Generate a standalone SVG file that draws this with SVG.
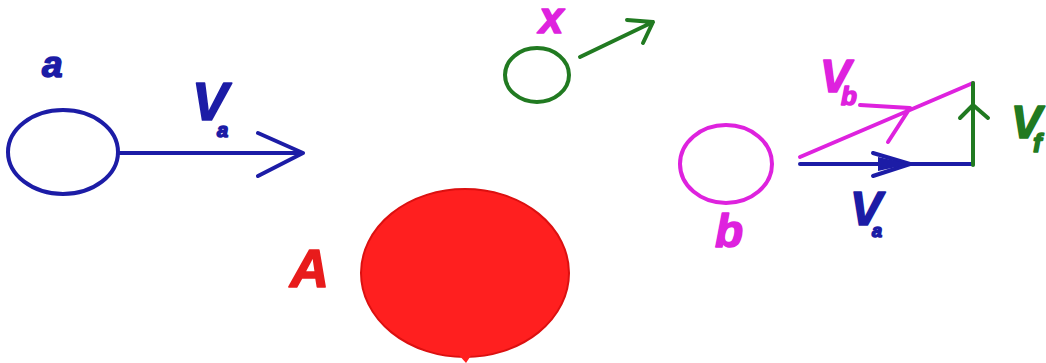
<svg xmlns="http://www.w3.org/2000/svg" width="1046" height="363" viewBox="0 0 1046 363">
<style>
text{font-family:"Liberation Sans",Arial,sans-serif;font-weight:bold;font-style:italic;stroke-width:1.6;stroke-linejoin:round}
.blue{fill:#1c1ca6;stroke:#1c1ca6}.mag{fill:#de22de;stroke:#de22de}.grn{fill:#217a21;stroke:#217a21}.red{fill:#e81c1c;stroke:#e81c1c}
.ln{fill:none;stroke-width:4;stroke-linecap:round;stroke-linejoin:round}
.sb{stroke:#1c1ca6}.sm{stroke:#de22de}.sg{stroke:#217a21}
.fb{fill:#1c1ca6}
</style>
<rect width="1046" height="363" fill="#ffffff"/>
<g id="node-a">
<ellipse cx="63" cy="152" rx="55" ry="42" class="ln sb"/>
<text x="42" y="77" font-size="37" class="blue">a</text>
</g>
<g id="node-x">
<ellipse cx="537" cy="75" rx="32" ry="27" class="ln sg" stroke-width="4.5"/>
<text x="539" y="33" font-size="44" class="mag">x</text>
</g>
<g id="node-A">
<ellipse cx="465" cy="273" rx="104" ry="84" fill="#ff1f1f" stroke="#dc1010" stroke-width="2"/>
<path d="M458,354 L472,354 L466,363 Z" fill="#ff1f1f"/>
<text x="290" y="287" font-size="54" class="red">A</text>
</g>
<g id="node-b">
<ellipse cx="726" cy="164" rx="46" ry="39" class="ln sm"/>
<text x="715" y="247" font-size="46" class="mag">b</text>
</g>
<g id="connectors">
<path d="M118,153 H303 M258,133 L303,153 L258,176" class="ln sb"/>
<path d="M580,57 L653,22 M627,20 L653,22 L643,43" class="ln sg" stroke-width="5"/>
<path d="M800,164 H973 M873,153 L910,164 L873,176" class="ln sb"/>
<path d="M878,157 L910,164 L878,171 Z" class="fb"/>
<path d="M800,157 L973,83 M860,105 L910,108 L888,142" class="ln sm"/>
<path d="M973,165 V83 M960,118 L973,105 L988,118" class="ln sg"/>
</g>
<g id="labels">
<text x="192" y="120" font-size="54" class="blue">V</text>
<text x="217" y="137" font-size="20" class="blue">a</text>
<text x="820" y="92" font-size="46" class="mag">V</text>
<text x="841" y="105" font-size="26" class="mag">b</text>
<text x="1011" y="138" font-size="46" class="grn">V</text>
<text x="1033" y="152" font-size="26" class="grn">f</text>
<text x="850" y="225" font-size="48" class="blue">V</text>
<text x="872" y="237" font-size="18" class="blue">a</text>
</g>
</svg>
